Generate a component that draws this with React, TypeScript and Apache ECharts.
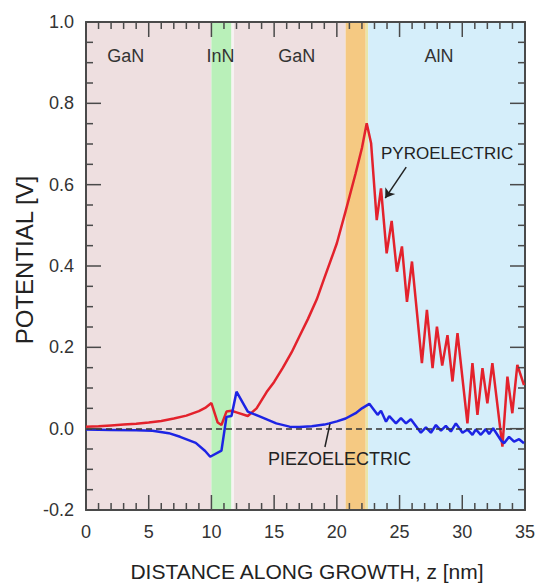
import React, { useEffect, useRef } from 'react';
import * as echarts from 'echarts';

// ---- data ----
const regionNames = ['GaN', 'InN', '', 'GaN', '', '', 'AlN'];
const regionStarts = [0, 10, 11.6, 11.8, 20.7, 22.3, 22.5];
const regionEnds = [10, 11.6, 11.8, 20.7, 22.3, 22.5, 35];
const regionColors = ['#eedfe0', '#b9f0b9', '#f7f2f2', '#eedfe0', '#f5c982', '#e9e5a8', '#d5eefa'];

const xMajorTicks = [0, 5, 10, 15, 20, 25, 30, 35];
const yMajorTicks = [-0.2, 0, 0.2, 0.4, 0.6, 0.8, 1.0];

const redZ = [0, 1, 2, 3, 4, 5, 6, 7, 8, 9, 9.5, 10.0, 10.5, 10.8, 11.2, 11.6, 12.0, 12.9, 13.6, 14.4, 15.0, 15.7, 16.4, 17.0, 17.7, 18.4, 19.0, 19.7, 20.0, 20.7, 21.5, 22.0, 22.38,
  22.73, 23.18, 23.52, 23.97, 24.37, 24.79, 25.19, 25.59, 25.99, 26.78, 27.18, 27.63, 27.98, 28.4, 28.82, 29.22, 29.62, 30.41, 30.81, 31.21, 31.61, 32.0, 32.4, 33.2, 33.6, 33.99, 34.39, 34.92];
const redV = [0.005, 0.006, 0.008, 0.01, 0.012, 0.015, 0.019, 0.025, 0.032, 0.043, 0.051, 0.063, 0.015, 0.009, 0.042, 0.044, 0.04, 0.031, 0.05, 0.09, 0.115, 0.15, 0.188, 0.226, 0.27, 0.318, 0.37, 0.43, 0.456, 0.535, 0.628, 0.69, 0.751,
  0.702, 0.513, 0.591, 0.431, 0.511, 0.386, 0.448, 0.312, 0.411, 0.161, 0.292, 0.149, 0.251, 0.155, 0.23, 0.116, 0.235, 0.013, 0.161, 0.034, 0.149, 0.062, 0.161, -0.044, 0.128, 0.038, 0.157, 0.107];

const blueZ = [0, 2, 4, 5.3, 6.6, 7.5, 8.75, 9.5, 9.9, 10.8, 11.2, 11.6, 12.0, 12.9, 13.84, 15.17, 16.23, 17.0, 18.0, 19.0, 19.4, 20.0, 20.7, 21.5, 22.0, 22.59,
  23.25, 23.52, 23.92, 24.18, 24.71, 25.11, 25.51, 25.9, 26.7, 27.1, 27.5, 27.9, 28.3, 28.69, 29.09, 29.49, 30.02, 30.41, 30.81, 31.08, 31.48, 31.87, 32.14, 32.46, 33.07, 33.33, 33.73, 34.13, 34.53, 34.92];
const blueV = [-0.002, -0.003, -0.004, -0.005, -0.011, -0.02, -0.035, -0.055, -0.069, -0.054, 0.029, 0.031, 0.091, 0.042, 0.03, 0.013, 0.005, 0.004, 0.006, 0.01, 0.013, 0.018, 0.025, 0.038, 0.05, 0.061,
  0.034, 0.044, 0.017, 0.031, 0.013, 0.026, 0.013, 0.023, -0.01, 0.003, -0.01, 0.009, -0.005, 0.007, -0.007, 0.013, -0.01, -0.002, -0.015, -0.002, -0.015, -0.001, -0.013, 0.001, -0.028, -0.036, -0.02, -0.032, -0.026, -0.036];

const FONT = '"Liberation Sans", Arial, sans-serif';
const RED = '#e3222c';
const BLUE = '#1d24e4';
const AX = '#4a4a4a';
const X_MIN = 0, X_MAX = 35, Y_MIN = -0.2, Y_MAX = 1.0;

export default function App() {
  const ref = useRef<HTMLDivElement>(null);
  useEffect(() => {
    document.body.style.margin = '0';
    const chart = echarts.init(ref.current!, null, { renderer: 'svg' });
    const redData = redZ.map((z, i) => [z, redV[i]]);
    const blueData = blueZ.map((z, i) => [z, blueV[i]]);
    const bands = regionStarts.map((s, i) => [
      { xAxis: s, itemStyle: { color: regionColors[i] } },
      { xAxis: regionEnds[i] },
    ]);

    const mkAxis = (extra: any) => ({
      type: 'value',
      axisLine: { show: true, onZero: false, lineStyle: { color: AX, width: 2 } },
      axisTick: { show: false },
      minorTick: { show: false },
      splitLine: { show: false },
      ...extra,
    });

    chart.setOption({
      animation: false,
      grid: { left: 86, right: 12, top: 22, bottom: 78, containLabel: false },
      xAxis: [
        mkAxis({
          min: X_MIN, max: X_MAX, interval: 5, position: 'bottom',
          axisLabel: { fontSize: 18, fontFamily: FONT, color: '#333', margin: 13 },
        }),
        mkAxis({ min: X_MIN, max: X_MAX, interval: 5, position: 'top', axisLabel: { show: false } }),
      ],
      yAxis: [
        mkAxis({
          min: Y_MIN, max: Y_MAX, interval: 0.2, position: 'left',
          axisLabel: {
            fontSize: 18, fontFamily: FONT, color: '#333', margin: 12,
            formatter: (v: number) => (Math.abs(v) < 1e-9 ? '0.0' : v.toFixed(1)),
          },
        }),
        mkAxis({ min: Y_MIN, max: Y_MAX, interval: 0.2, position: 'right', axisLabel: { show: false } }),
      ],
      visualMap: [
        {
          type: 'piecewise', show: false, dimension: 0, seriesIndex: 2,
          pieces: [
            { lt: 10, color: RED },
            { gte: 10, lt: 11.6, color: '#b0601f' },
            { gte: 11.6, lt: 20.7, color: RED },
            { gte: 20.7, lt: 22.38, color: '#f0701c' },
            { gte: 22.38, color: RED },
          ],
        },
        {
          type: 'piecewise', show: false, dimension: 0, seriesIndex: 3,
          pieces: [
            { lt: 20.7, color: BLUE },
            { gte: 20.7, lt: 22.4, color: '#6c5e9c' },
            { gte: 22.4, color: BLUE },
          ],
        },
      ],
      series: [
        {
          type: 'line', data: [], z: -5, silent: true,
          markArea: { silent: true, z: -10, data: bands },
        },
        {
          type: 'line', data: [], z: 2, silent: true,
          markLine: {
            silent: true, symbol: 'none', label: { show: false },
            lineStyle: { color: '#333', width: 1.5, type: [6, 4] },
            data: [{ yAxis: 0 }],
          },
        },
        {
          type: 'line', data: redData, showSymbol: false, z: 3,
          lineStyle: { width: 2.5, color: RED },
        },
        {
          type: 'line', data: blueData, showSymbol: false, z: 4,
          lineStyle: { width: 2.5, color: BLUE },
          markLine: {
            silent: true, label: { show: false }, symbolSize: 9,
            lineStyle: { color: '#222', width: 1.5, type: 'solid' },
            data: [
              [{ coord: [25.53, 0.643], symbol: 'none' }, { coord: [23.86, 0.567], symbol: 'arrow' }],
              [{ coord: [19.45, 0.012], symbol: 'none' }, { coord: [19.05, -0.045], symbol: 'none' }],
            ],
          },
        },
      ],
    });

    // ticks, positioned through the chart's own scales
    const px = (x: number, y: number) => chart.convertToPixel({ gridIndex: 0 }, [x, y]) as number[];
    const tickStyle = { stroke: AX, lineWidth: 1.5 };
    const graphics: any[] = [];
    const addXTick = (v: number, len: number) => {
      const b = px(v, Y_MIN), t = px(v, Y_MAX);
      graphics.push({ type: 'line', z: 100, silent: true, shape: { x1: b[0], y1: b[1], x2: b[0], y2: b[1] - len }, style: tickStyle });
      graphics.push({ type: 'line', z: 100, silent: true, shape: { x1: t[0], y1: t[1], x2: t[0], y2: t[1] + len }, style: tickStyle });
    };
    const addYTick = (v: number, len: number) => {
      const l = px(X_MIN, v), r = px(X_MAX, v);
      graphics.push({ type: 'line', z: 100, silent: true, shape: { x1: l[0], y1: l[1], x2: l[0] + len, y2: l[1] }, style: tickStyle });
      graphics.push({ type: 'line', z: 100, silent: true, shape: { x1: r[0], y1: r[1], x2: r[0] - len, y2: r[1] }, style: tickStyle });
    };
    xMajorTicks.forEach((t, i) => {
      addXTick(t, 15);
      if (i < xMajorTicks.length - 1) for (let k = 1; k < 5; k++) addXTick(t + k, 7);
    });
    yMajorTicks.forEach((t, i) => {
      addYTick(t, 15);
      if (i < yMajorTicks.length - 1) for (let k = 1; k < 4; k++) addYTick(t + k * 0.05, 7);
    });

    const labelCenters = [125.7, 220.5, 0, 296.7, 0, 0, 439];
    regionNames.forEach((n, i) => {
      if (!n) return;
      graphics.push({
        type: 'text', x: labelCenters[i], y: 56, z: 100,
        style: { text: n, font: `18px ${FONT}`, fill: '#333', textAlign: 'center', textVerticalAlign: 'middle' },
      });
    });
    graphics.push(
      { type: 'text', x: 381, y: 153, z: 100, style: { text: 'PYROELECTRIC', font: `17px ${FONT}`, fill: '#222', textAlign: 'left', textVerticalAlign: 'middle' } },
      { type: 'text', x: 268, y: 459, z: 100, style: { text: 'PIEZOELECTRIC', font: `18px ${FONT}`, fill: '#222', textAlign: 'left', textVerticalAlign: 'middle' } },
      { type: 'text', x: 24, y: 260, rotation: Math.PI / 2, z: 100, style: { text: 'POTENTIAL [V]', font: `24px ${FONT}`, fill: '#222', textAlign: 'center', textVerticalAlign: 'middle' } },
      { type: 'text', x: 307, y: 571, z: 100, style: { text: 'DISTANCE ALONG GROWTH, z [nm]', font: `21px ${FONT}`, fill: '#222', textAlign: 'center', textVerticalAlign: 'middle' } },
    );
    chart.setOption({ graphic: graphics });

    return () => chart.dispose();
  }, []);
  return <div ref={ref} style={{ width: 538, height: 588 }} />;
}
